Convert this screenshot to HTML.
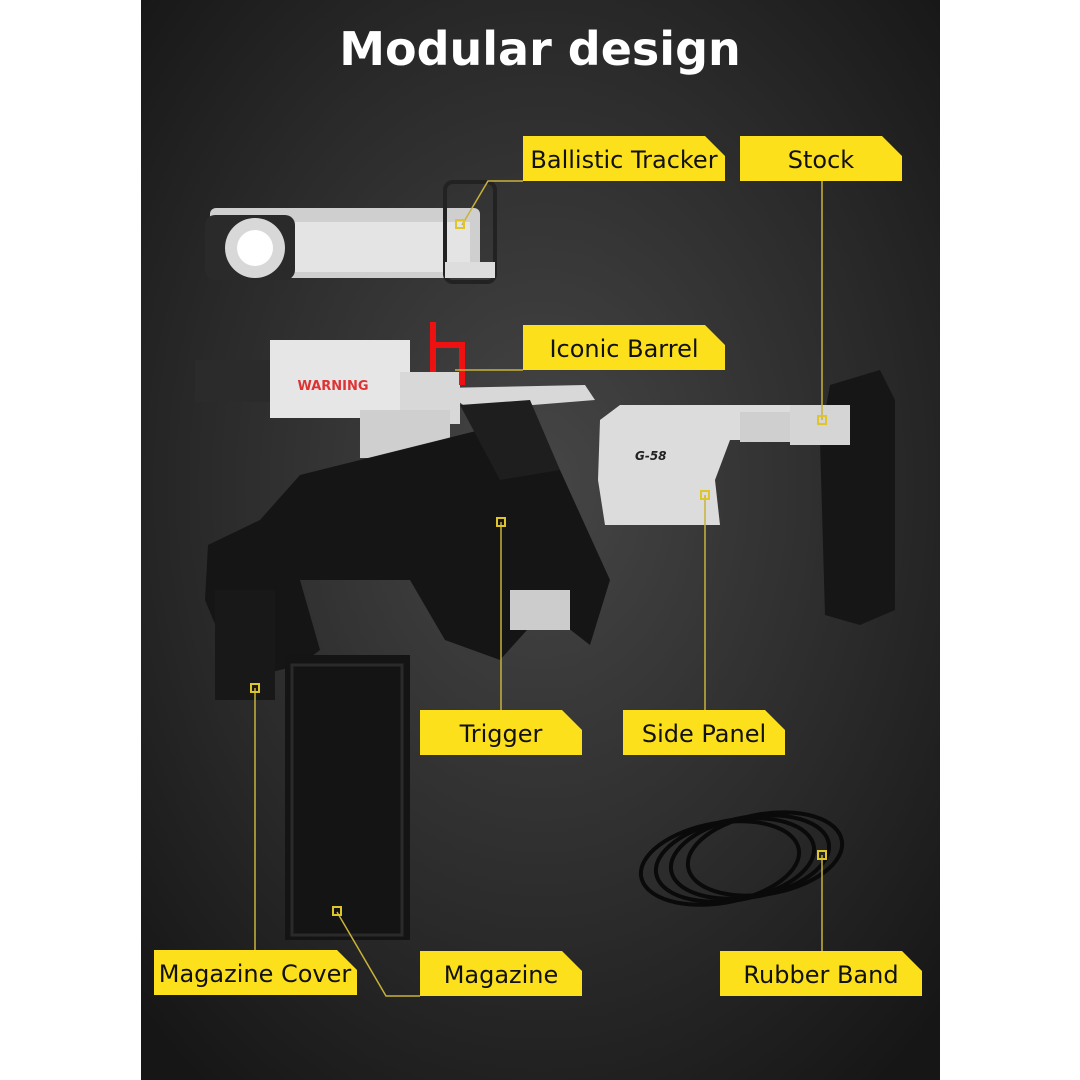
<!DOCTYPE html>
<html><head><meta charset="utf-8"><style>
html,body{margin:0;padding:0;background:#fff;}
svg{display:block}
text{font-family:"DejaVu Sans","Liberation Sans",sans-serif}
</style></head><body>
<svg width="1080" height="1080" viewBox="0 0 1080 1080" xmlns="http://www.w3.org/2000/svg">
<defs>
<radialGradient id="bg" cx="0.5" cy="0.45" r="0.7">
<stop offset="0" stop-color="#464646"/><stop offset="0.6" stop-color="#2a2a2a"/><stop offset="1" stop-color="#161616"/>
</radialGradient>
</defs>
<rect x="0" y="0" width="1080" height="1080" fill="#fff"/>
<rect x="141" y="0" width="799" height="1080" fill="url(#bg)"/>
<text x="540" y="65" font-size="46" font-weight="bold" fill="#fff" text-anchor="middle">Modular design</text>

<!-- Ballistic tracker -->
<rect x="210" y="208" width="270" height="70" rx="6" fill="#cfcfcf"/>
<rect x="290" y="222" width="180" height="50" fill="#e4e4e4"/>
<rect x="205" y="215" width="90" height="65" rx="10" fill="#2a2a2a"/>
<circle cx="255" cy="248" r="30" fill="#d8d8d8"/>
<circle cx="255" cy="248" r="18" fill="#fff"/>
<rect x="445" y="182" width="50" height="100" rx="8" fill="none" stroke="#222" stroke-width="4"/>
<rect x="445" y="262" width="50" height="16" fill="#ddd"/>

<!-- Barrel -->
<rect x="195" y="360" width="95" height="42" fill="#2b2b2b"/>
<rect x="270" y="340" width="140" height="78" fill="#e6e6e6"/>
<text x="333" y="390" font-size="13" font-weight="bold" fill="#d33" text-anchor="middle">WARNING</text>
<rect x="400" y="372" width="60" height="52" fill="#d8d8d8"/>
<polygon points="440,388 585,385 595,400 470,410" fill="#d8d8d8"/>
<rect x="360" y="410" width="90" height="48" fill="#cfcfcf"/>
<path d="M433 322 L433 372 M433 345 L462 345 L462 385" stroke="#e11" stroke-width="6" fill="none"/>

<!-- Main frame black -->
<polygon points="208,545 260,520 300,475 480,430 520,420 560,470 610,580 590,645 545,610 500,660 445,640 410,580 300,580 320,650 300,665 260,675 230,660 205,600" fill="#151515"/>
<polygon points="460,405 530,400 560,470 500,480" fill="#1e1e1e"/>
<rect x="285" y="655" width="125" height="285" fill="#141414"/>
<rect x="292" y="665" width="110" height="270" fill="none" stroke="#2a2a2a" stroke-width="3"/>
<rect x="215" y="590" width="60" height="110" fill="#181818"/>
<rect x="510" y="590" width="60" height="40" fill="#ccc"/>

<!-- Side panel -->
<polygon points="600,420 620,405 790,405 790,440 730,440 715,480 720,525 605,525 598,480" fill="#dcdcdc"/>
<rect x="740" y="412" width="110" height="30" fill="#cfcfcf"/>
<text x="635" y="460" font-size="12" font-weight="bold" font-style="italic" fill="#222">G-58</text>

<!-- Stock -->
<polygon points="830,385 880,370 895,400 895,610 860,625 825,615 820,440" fill="#161616"/>
<rect x="790" y="405" width="60" height="40" fill="#d5d5d5"/>

<!-- Rubber band -->
<g fill="none" stroke="#0a0a0a" stroke-width="4">
<ellipse cx="720" cy="863" rx="80" ry="40" transform="rotate(-10 720 863)"/>
<ellipse cx="735" cy="860" rx="80" ry="40" transform="rotate(-10 735 860)"/>
<ellipse cx="750" cy="857" rx="80" ry="40" transform="rotate(-10 750 857)"/>
<ellipse cx="765" cy="854" rx="78" ry="40" transform="rotate(-10 765 854)"/>
</g>

<!-- leader lines -->
<g stroke="#c9b23a" stroke-width="1.5" fill="none">
<polyline points="523,181 488,181 462,225"/>
<line x1="822" y1="181" x2="822" y2="420"/>
<line x1="523" y1="370" x2="455" y2="370"/>
<line x1="501" y1="710" x2="501" y2="522"/>
<line x1="705" y1="710" x2="705" y2="495"/>
<line x1="255" y1="950" x2="255" y2="688"/>
<polyline points="420,996 386,996 337,912"/>
<line x1="822" y1="951" x2="822" y2="855"/>
</g>
<g fill="none" stroke="#e0c52a" stroke-width="2">
<rect x="456" y="220" width="8" height="8"/><rect x="818" y="416" width="8" height="8"/>
<rect x="497" y="518" width="8" height="8"/><rect x="701" y="491" width="8" height="8"/>
<rect x="251" y="684" width="8" height="8"/><rect x="333" y="907" width="8" height="8"/>
<rect x="818" y="851" width="8" height="8"/>
</g>

<!-- labels -->
<g fill="#fde01c">
<polygon points="523,136 705,136 725,156 725,181 523,181"/>
<polygon points="740,136 882,136 902,156 902,181 740,181"/>
<polygon points="523,325 705,325 725,345 725,370 523,370"/>
<polygon points="420,710 562,710 582,730 582,755 420,755"/>
<polygon points="623,710 765,710 785,730 785,755 623,755"/>
<polygon points="154,950 337,950 357,970 357,995 154,995"/>
<polygon points="420,951 562,951 582,971 582,996 420,996"/>
<polygon points="720,951 902,951 922,971 922,996 720,996"/>
</g>
<g font-size="24" fill="#111" text-anchor="middle">
<text x="624" y="168">Ballistic Tracker</text>
<text x="821" y="168">Stock</text>
<text x="624" y="357">Iconic Barrel</text>
<text x="501" y="742">Trigger</text>
<text x="704" y="742">Side Panel</text>
<text x="255" y="982">Magazine Cover</text>
<text x="501" y="983">Magazine</text>
<text x="821" y="983">Rubber Band</text>
</g>
</svg>
</body></html>
